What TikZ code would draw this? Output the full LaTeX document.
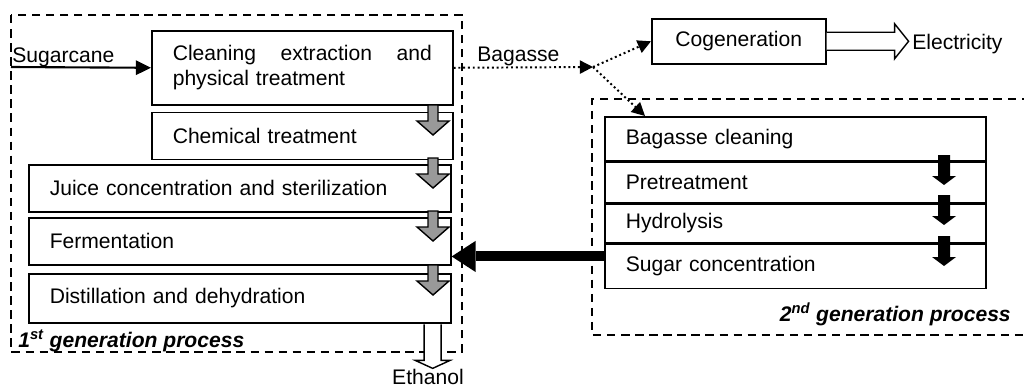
\documentclass[tikz,border=0pt]{standalone}
\usepackage{fontspec}
\setmainfont{Liberation Sans}
\usetikzlibrary{arrows.meta, positioning, calc}

\begin{document}
\begin{tikzpicture}[
	x={(0.025cm,0cm)},
	y={(0cm,-0.025cm)},
	font=\fontsize{15}{17.8}\selectfont,
	>=Latex,
	procbox/.style={draw, line width=1.1pt, anchor=north west, align=left, inner xsep=0.525cm, inner ysep=0pt},
	narrowproc/.style={procbox, text width=6.475cm},
	wideproc/.style={procbox, text width=9.5cm},
	secbox/.style={procbox, text width=8.475cm},
	unitbox/.style={draw, line width=1.1pt, anchor=north west, minimum width=4.35cm, minimum height=1.125cm},
	groupbox/.style={draw, line width=1pt, dash pattern=on 6pt off 4pt},
	feed/.style={line width=1.5pt, -{Triangle[length=0.38cm, width=0.36cm]}},
	byproduct/.style={line width=1.4pt, dotted, -{Triangle[length=0.33cm, width=0.33cm]}},
	stepflow/.style={line width=0.25cm, -{Triangle[length=0.6cm, width=0.78cm, line width=0pt]}},
	openflow/.style={draw, line width=1pt, fill=white, line join=miter},
	flowlabel/.style={inner sep=0pt},
	grouplabel/.style={font=\fontsize{15}{17.8}\selectfont\bfseries\itshape, inner sep=0pt},
	pics/grayflow/.style={code={
			\draw[line width=1pt, fill=gray!80] (-5,0) -- (5,0) -- (5,16) -- (16,16) -- (0,30) -- (-16,16) -- (-5,16) -- cycle;}},
	pics/blackflow/.style={code={
			\fill (-6,0) -- (6,0) -- (6,21) -- (12,21) -- (0,30) -- (-12,21) -- (-6,21) -- cycle;}}
	]
	
	\useasboundingbox (0,0) rectangle (1024,389);
	
	% --------------------------------------------------
	% process groups
	% --------------------------------------------------
	\draw[groupbox] (11,15) rectangle (462,352);
	\draw[groupbox] (1030,99) -- (592,99) -- (592,335) -- (1030,335);
	
	% ==================================================
	% 1st generation
	% ==================================================
	\node[narrowproc, minimum height=1.85cm] (clean) at (151,30)
	{\makebox[6.475cm][s]{Cleaning\hfill extraction\hfill and}\\physical treatment};
	\node[narrowproc, minimum height=1.175cm, below=0.15cm of clean.south west, anchor=north west] (chem) {Chemical treatment};
	\node[wideproc, minimum height=1.175cm] (juice) at (28,164) {Juice concentration and sterilization};
	\node[wideproc, minimum height=1.175cm] (ferm) at (28,217) {Fermentation};
	\node[wideproc, minimum height=1.225cm] (dist) at (28,273) {Distillation and dehydration};
	
	\node[grouplabel, anchor=base west] (first) at (18,347) {1\textsuperscript{st} generation process};
	
	% ==================================================
	% 2nd generation
	% ==================================================
	\node[secbox, minimum height=1.1cm] (bclean) at (604,116) {Bagasse cleaning};
	\node[secbox, minimum height=1cm, below=0pt of bclean.south west, anchor=north west] (pretreat) {Pretreatment};
	\node[secbox, minimum height=0.975cm, below=0pt of pretreat.south west, anchor=north west] (hydro) {Hydrolysis};
	\node[secbox, minimum height=1.1cm, below=0pt of hydro.south west, anchor=north west] (sugar) {Sugar concentration};
	
	\node[grouplabel, anchor=base east] (second) at (1011,321) {2\textsuperscript{nd} generation process};
	
	\node[unitbox] (cogen) at (651,18) {Cogeneration};
	
	% --------------------------------------------------
	% inputs and products
	% --------------------------------------------------
	\coordinate (cane) at (11,67);
	\node[flowlabel, anchor=base west] (canelabel) at (12,62) {Sugarcane};
	\draw[feed] (cane) -- (clean.west);
	
	\coordinate (split) at (593,67);
	\node[flowlabel, anchor=base west] (baglabel) at (477,61) {Bagasse};
	\draw[byproduct] (clean.east) -- (split);
	\draw[byproduct] (split) -- (cogen.west);
	\draw[byproduct] (split) -- ($(bclean.north west)+(41,0)$);
	
	\node[flowlabel, anchor=base west] (elec) at (912,49) {Electricity};
	\draw[openflow] ($(cogen.east)+(0,-9)$) -- ++(68,0) -- ++(0,-8.5) -- ++(14,17.5)
	-- ++(-14,17.5) -- ++(0,-8.5) -- ($(cogen.east)+(0,9)$);
	
	\node[flowlabel, anchor=base] (ethanol) at (428,384) {Ethanol};
	\draw[openflow] ($(dist.south east)+(-27.5,0.8)$) -- ++(0,36) -- ++(-9,0) -- ++(17.5,8)
	-- ++(17.5,-8) -- ++(-9,0) -- ++(0,-36);
	
	% step arrows
	\pic at (433,105) {grayflow};
	\pic at (433,158) {grayflow};
	\pic at (433,211) {grayflow};
	\pic at (433,265) {grayflow};
	
	\pic at (944,155) {blackflow};
	\pic at (944,195) {blackflow};
	\pic at (944,236) {blackflow};
	
	% sugars fed to fermentation
	\coordinate (mix) at ($(sugar.west)+(0,-10)$);
	\draw[stepflow] (mix) -- (mix -| ferm.east);
	
\end{tikzpicture}
\end{document}
